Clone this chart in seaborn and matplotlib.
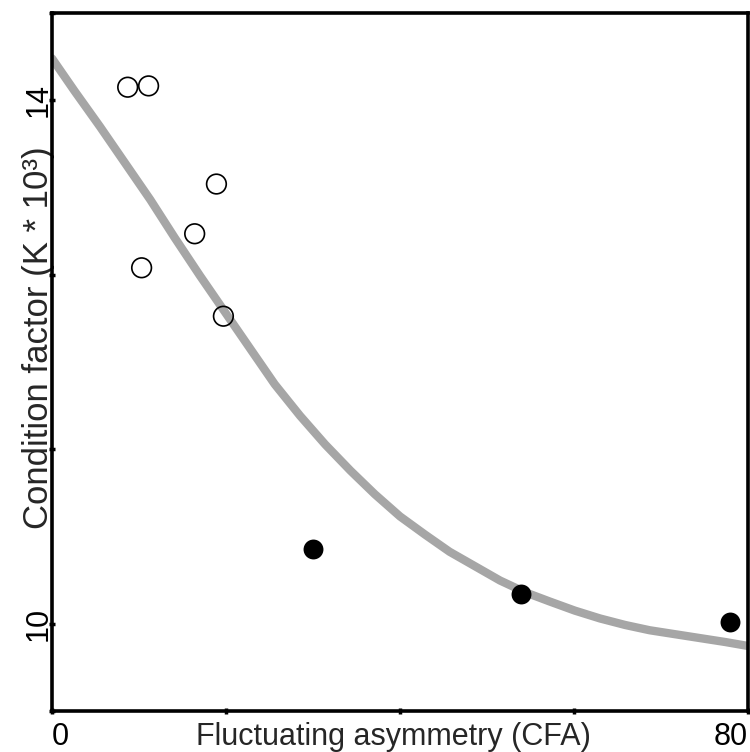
import numpy as np
import matplotlib
matplotlib.use("Agg")
import matplotlib.pyplot as plt
import seaborn as sns

# ── data ──────────────────────────────────────────────────────────────────────
open_x = [8.7, 11.1, 18.9, 16.4, 10.3, 19.7]
open_y = [14.10, 14.11, 13.36, 12.98, 12.72, 12.35]

filled_x = [30.0, 53.9, 77.9]
filled_y = [10.57, 10.23, 10.01]

# fitted curve
curve_x = [0.0, 2.6, 5.5, 8.4, 11.3, 14.1, 17.0, 19.9, 22.8, 25.6,
           28.5, 31.4, 34.3, 37.1, 40.0, 42.9, 45.7, 48.6, 51.5, 54.4,
           57.2, 60.1, 63.0, 65.9, 68.7, 71.6, 74.5, 77.4, 80.0]
curve_y = [14.32, 14.07, 13.80, 13.52, 13.24, 12.95, 12.66, 12.38, 12.10, 11.83,
           11.59, 11.37, 11.17, 10.99, 10.82, 10.68, 10.55, 10.44, 10.33, 10.24,
           10.17, 10.10, 10.04, 9.99, 9.95, 9.92, 9.89, 9.86, 9.83]

x_ticks = [0, 20, 40, 60, 80]
x_labels = ["0", "", "", "", "80"]
y_ticks = [9.333, 10, 11.333, 12.667, 14, 14.667]
y_labels = ["", "10", "", "", "14", ""]

sns.set_theme(style="white")
plt.rcParams["font.family"] = ["Liberation Sans", "DejaVu Sans"]
fs = 22

fig = plt.figure(figsize=(7.5, 7.52), dpi=100)
ax = fig.add_axes([52 / 750, 1 - 711 / 752, 696 / 750, 698 / 752])

sns.lineplot(x=curve_x, y=curve_y, ax=ax, color="#a6a6a6", linewidth=6,
             sort=False, estimator=None, zorder=2)
sns.scatterplot(x=open_x, y=open_y, ax=ax, marker="o", s=200,
                facecolor="none", edgecolor="black", linewidth=1.2, zorder=3)
sns.scatterplot(x=filled_x, y=filled_y, ax=ax, marker="o", s=205,
                color="black", edgecolor="black", linewidth=0, zorder=3)

ax.set_xlim(0, 80)
ax.set_ylim(9.333, 14.667)
ax.set_xticks(x_ticks, x_labels)
ax.set_yticks(y_ticks, y_labels)

for sp in ax.spines.values():
    sp.set_linewidth(2.6)
    sp.set_color("black")

ax.tick_params(axis="both", direction="inout", length=5, width=2.5,
               colors="black", labelsize=fs)
ax.tick_params(axis="x", pad=5.5, bottom=True)
ax.tick_params(axis="y", pad=-3.5, labelrotation=90, left=True)
xl = ax.get_xticklabels()
xl[0].set_ha("left")
xl[-1].set_ha("right")
for t in ax.get_yticklabels():
    t.set_va("center")

ax.set_xlabel("Fluctuating asymmetry (CFA)", fontsize=fs)
ax.set_ylabel("Condition factor (K * 10\u00b3)", fontsize=25)
ax.xaxis.set_label_coords(0.491, -0.016)
ax.yaxis.set_label_coords(0.0036, 0.535)

fig.savefig("out.png", dpi=100)
